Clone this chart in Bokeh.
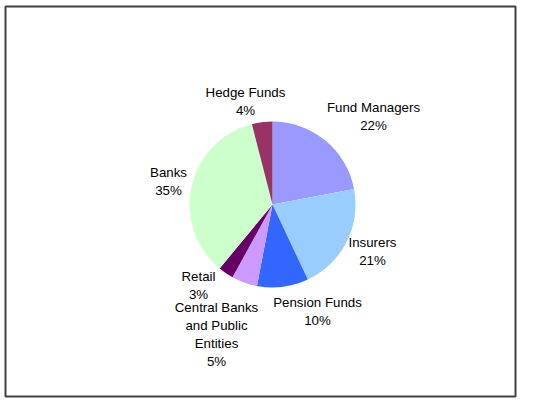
import math
from bokeh.plotting import figure
from bokeh.models import Range1d, ColumnDataSource
from bokeh.core.properties import value
from bokeh.embed import file_html
from bokeh.resources import INLINE

# Data
categories = ["Fund Managers", "Insurers", "Pension Funds",
              "Central Banks\nand Public\nEntities", "Retail", "Banks", "Hedge Funds"]
shares = [22, 21, 10, 5, 3, 35, 4]
colors = ["#9999FF", "#99CCFF", "#3366FF", "#CC99FF", "#660066", "#CCFFCC", "#993366"]

# Layout (pixels relative to pie centre, screen y down)
label_offsets = [(101, -88), (100, 47), (45, 107), (-56, 130), (-74, 81), (-104, -23), (-27, -103)]
RADIUS = 83

W, H = 520, 400
ML, MT, MR, MB = 5, 6, 5, 4
FW, FH = W - ML - MR, H - MT - MB
cx, cy = 272 - ML, 204 - MT  # pie centre inside frame, from left/top

p = figure(width=W, height=H, output_backend="svg", toolbar_location=None,
           x_range=Range1d(-cx, FW - cx), y_range=Range1d(-(FH - cy), cy),
           min_border_left=ML, min_border_top=MT, min_border_right=MR, min_border_bottom=MB)
p.axis.visible = False
p.grid.visible = False
p.background_fill_color = "white"
p.border_fill_color = "white"
p.outline_line_color = "#404040"
p.outline_line_width = 2

total = sum(shares)
starts, ends = [], []
cum = 0.0
for s in shares:
    a0 = math.pi / 2 - 2 * math.pi * cum / total
    cum += s
    a1 = math.pi / 2 - 2 * math.pi * cum / total
    starts.append(a0)
    ends.append(a1)

src = ColumnDataSource(dict(start=starts, end=ends, color=colors))
p.wedge(x=0, y=0, radius=RADIUS, start_angle="start", end_angle="end",
        direction="clock", fill_color="color", line_color=None, source=src)

labels = [f"{c}\n{s}%" for c, s in zip(categories, shares)]
lx = [o[0] for o in label_offsets]
ly = [-o[1] for o in label_offsets]
p.text(x=lx, y=ly, text=labels, text_align="center", text_baseline="middle",
       text_font=value("Liberation Sans"), text_font_size="13.3px",
       text_line_height=1.2, text_color="black")

open("out.html", "w").write(file_html(p, INLINE))
